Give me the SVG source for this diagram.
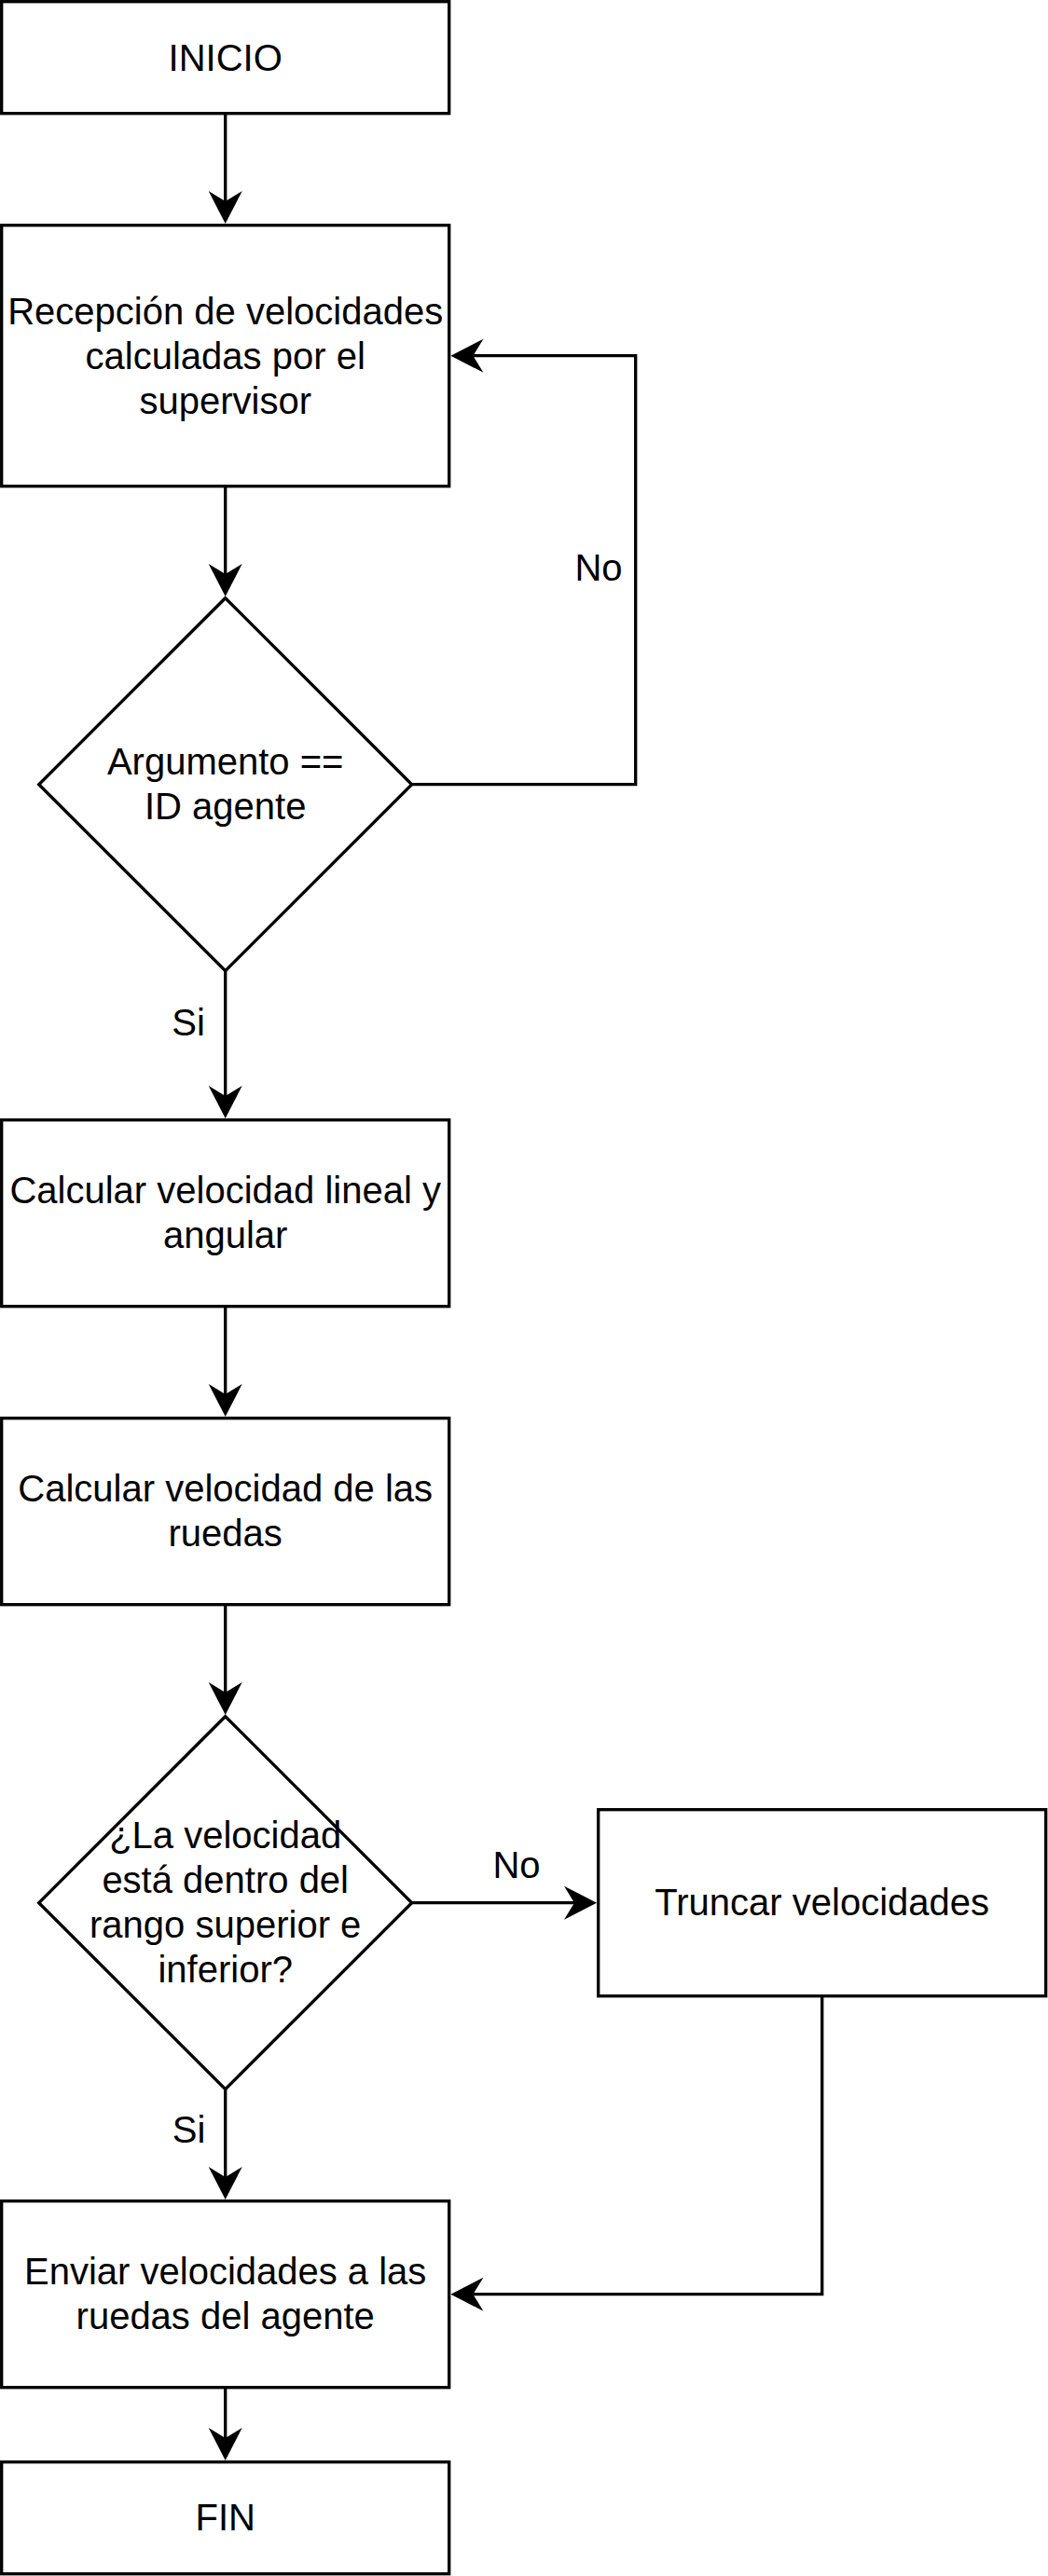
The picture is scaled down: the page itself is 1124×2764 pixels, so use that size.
<svg xmlns="http://www.w3.org/2000/svg" width="1124" height="2764" viewBox="0 0 1124 2764">
  <style>
    .shape { fill: #ffffff; stroke: #000000; stroke-width: 3.33; }
    .edge { fill: none; stroke: #000000; stroke-width: 3.33; stroke-linejoin: miter; }
    .lbl { font-family: "Liberation Sans", Arial, sans-serif; font-size: 40px; fill: #000000; text-anchor: middle; }
  </style>
  <defs>
    <marker id="arrow" markerUnits="userSpaceOnUse" viewBox="-12 -20 40 40" refX="0" refY="0" markerWidth="40" markerHeight="40" orient="auto" overflow="visible">
      <path d="M24,0 L-11,-18 L0,0 L-11,18 Z" fill="#000000" stroke="none"/>
    </marker>
  </defs>
  <rect width="1124" height="2764" fill="#ffffff"/>

  <g id="connectors">
    <path class="edge" d="M241.7,121.7 V216" marker-end="url(#arrow)"/>
    <path class="edge" d="M241.7,521.7 V616" marker-end="url(#arrow)"/>
    <path class="edge" d="M441.7,841.7 H681.7 V381.7 H507.4" marker-end="url(#arrow)"/>
    <path class="edge" d="M241.7,1041.7 V1176" marker-end="url(#arrow)"/>
    <path class="edge" d="M241.7,1401.7 V1496" marker-end="url(#arrow)"/>
    <path class="edge" d="M241.7,1721.7 V1816" marker-end="url(#arrow)"/>
    <path class="edge" d="M441.7,2041.7 H616" marker-end="url(#arrow)"/>
    <path class="edge" d="M241.7,2241.7 V2336" marker-end="url(#arrow)"/>
    <path class="edge" d="M881.7,2141.7 V2461.7 H507.4" marker-end="url(#arrow)"/>
    <path class="edge" d="M241.7,2561.7 V2616" marker-end="url(#arrow)"/>
    <text class="lbl" x="642" y="623">No</text>
    <text class="lbl" x="202" y="1111">Si</text>
    <text class="lbl" x="554" y="2015">No</text>
    <text class="lbl" x="202.5" y="2299">Si</text>
  </g>

  <g id="inicio">
    <rect class="shape" x="1.7" y="1.7" width="480" height="120"/>
    <text class="lbl" x="241.7" y="75.7">INICIO</text>
  </g>

  <g id="recepcion">
    <rect class="shape" x="1.7" y="241.7" width="480" height="280"/>
    <text class="lbl" x="241.7" y="347.7">Recepción de velocidades</text>
    <text class="lbl" x="241.7" y="395.7">calculadas por el</text>
    <text class="lbl" x="241.7" y="443.7">supervisor</text>
  </g>

  <g id="decision-id">
    <polygon class="shape" points="241.7,641.7 441.7,841.7 241.7,1041.7 41.7,841.7"/>
    <text class="lbl" x="241.7" y="831">Argumento ==</text>
    <text class="lbl" x="241.7" y="879">ID agente</text>
  </g>

  <g id="calc-lineal">
    <rect class="shape" x="1.7" y="1201.7" width="480" height="200"/>
    <text class="lbl" x="241.7" y="1291">Calcular velocidad lineal y</text>
    <text class="lbl" x="241.7" y="1339">angular</text>
  </g>

  <g id="calc-ruedas">
    <rect class="shape" x="1.7" y="1521.7" width="480" height="200"/>
    <text class="lbl" x="241.7" y="1611">Calcular velocidad de las</text>
    <text class="lbl" x="241.7" y="1659">ruedas</text>
  </g>

  <g id="decision-rango">
    <polygon class="shape" points="241.7,1841.7 441.7,2041.7 241.7,2241.7 41.7,2041.7"/>
    <text class="lbl" x="241.7" y="1983">¿La velocidad</text>
    <text class="lbl" x="241.7" y="2031">está dentro del</text>
    <text class="lbl" x="241.7" y="2079">rango superior e</text>
    <text class="lbl" x="241.7" y="2127">inferior?</text>
  </g>

  <g id="truncar">
    <rect class="shape" x="641.7" y="1941.7" width="480" height="200"/>
    <text class="lbl" x="881.7" y="2055.2">Truncar velocidades</text>
  </g>

  <g id="enviar">
    <rect class="shape" x="1.7" y="2361.7" width="480" height="200"/>
    <text class="lbl" x="241.7" y="2451">Enviar velocidades a las</text>
    <text class="lbl" x="241.7" y="2499">ruedas del agente</text>
  </g>

  <g id="fin">
    <rect class="shape" x="1.7" y="2641.7" width="480" height="120"/>
    <text class="lbl" x="241.7" y="2715.2">FIN</text>
  </g>
</svg>
